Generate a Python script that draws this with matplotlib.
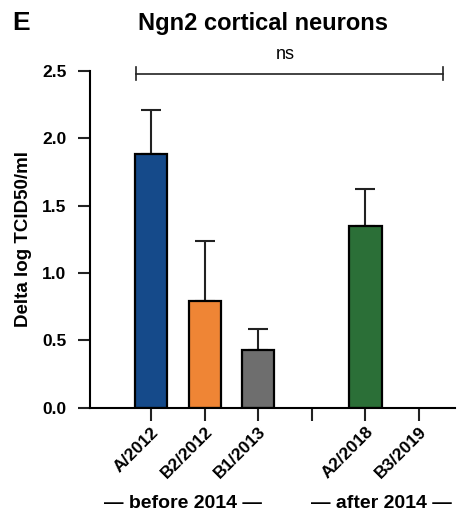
import matplotlib.pyplot as plt
import numpy as np

plt.rcParams['font.family'] = ['Liberation Sans', 'DejaVu Sans']
plt.rcParams['font.weight'] = 'bold'

labels = ['A/2012', 'B2/2012', 'B1/2013', '', 'A2/2018', 'B3/2019']
means = [1.88, 0.79, 0.43, 0.0, 1.35, 0.0]
errs = [0.33, 0.45, 0.15, 0.0, 0.27, 0.0]
colors = ['#154a8a', '#ef8535', '#6e6e6e', '#ffffff', '#2b6f37', '#ffffff']
has_bar = [True, True, True, False, True, False]

fig = plt.figure(figsize=(4.6, 5.14), dpi=100)
ax = fig.add_axes([0.196, 0.207, 0.793, 0.655])

x = np.arange(len(labels))
for i in range(len(labels)):
    if not has_bar[i]:
        continue
    ax.bar(x[i], means[i], width=0.6, color=colors[i], edgecolor='black', linewidth=1.6, zorder=2)
    ax.errorbar(x[i], means[i], yerr=[[0], [errs[i]]], fmt='none', ecolor='#222222',
                elinewidth=1.5, capsize=7, capthick=1.5, zorder=1)

ax.set_xlim(-1.14, 5.67)
ax.set_ylim(0, 2.5)
ax.set_yticks([0.0, 0.5, 1.0, 1.5, 2.0, 2.5])
ax.set_yticklabels(['0.0', '0.5', '1.0', '1.5', '2.0', '2.5'], fontsize=12.5, fontweight='bold')
ax.set_xticks(x)
ax.set_xticklabels(labels, rotation=45, ha='right', rotation_mode='anchor', fontsize=12.5, fontweight='bold')
ax.tick_params(axis='both', direction='out', length=9, width=1.5, color='#222222')
ax.tick_params(axis='y', pad=8)
ax.tick_params(axis='x', pad=3)

ax.spines['top'].set_visible(False)
ax.spines['right'].set_visible(False)
ax.spines['left'].set_linewidth(1.5)
ax.spines['bottom'].set_linewidth(1.5)

ax.set_ylabel('Delta log TCID50/ml', fontsize=13.5, fontweight='bold')
ax.yaxis.set_label_coords(-0.16, 0.5)

# significance bracket
ax.plot([-0.28, 5.45], [2.48, 2.48], color='#222222', lw=1.2, clip_on=False)
ax.plot([-0.28, -0.28], [2.43, 2.53], color='#222222', lw=1.2, clip_on=False)
ax.plot([5.45, 5.45], [2.43, 2.53], color='#222222', lw=1.2, clip_on=False)
ax.text(2.5, 2.62, 'ns', ha='center', va='center', fontsize=13, fontweight='normal', clip_on=False)

fig.text(0.572, 0.955, 'Ngn2 cortical neurons', ha='center', va='center', fontsize=17, fontweight='bold')
fig.text(0.027, 0.955, 'E', ha='left', va='center', fontsize=19, fontweight='bold')

ax.text(0.6, -0.71, '\u2014 before 2014 \u2014', ha='center', va='center', fontsize=14, fontweight='bold', clip_on=False)
ax.text(4.3, -0.71, '\u2014 after 2014 \u2014', ha='center', va='center', fontsize=14, fontweight='bold', clip_on=False)

fig.savefig('out.png', dpi=100)
